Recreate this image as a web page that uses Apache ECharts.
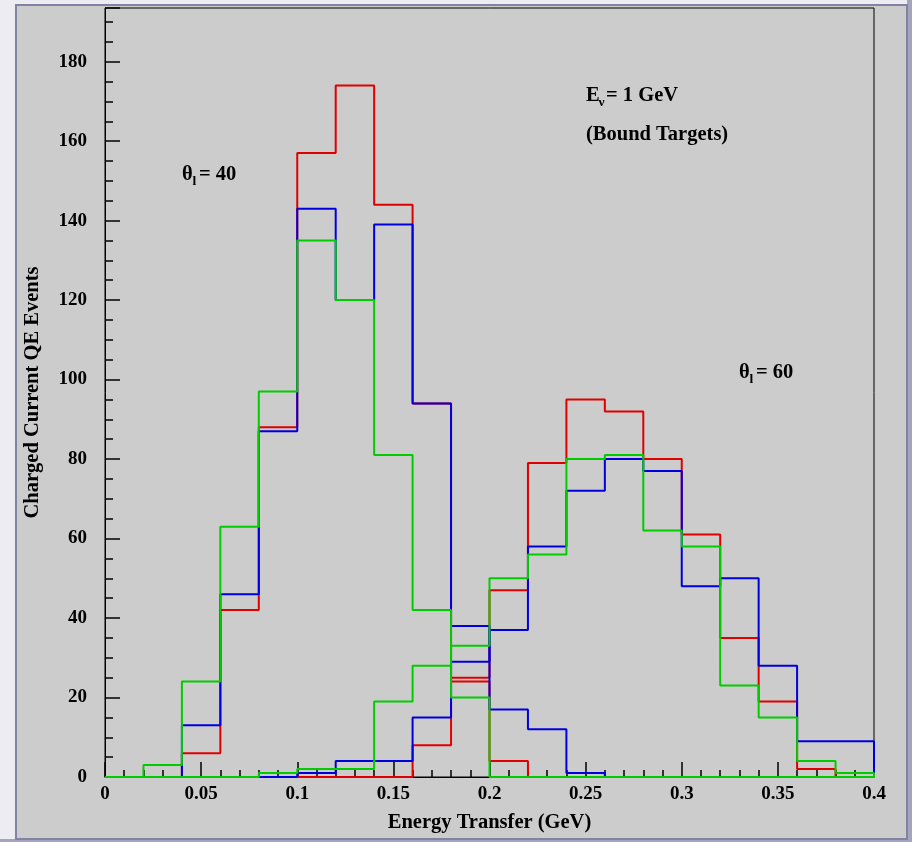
<!DOCTYPE html>
<html>
<head>
<meta charset="utf-8">
<script src="https://cdn.jsdelivr.net/npm/echarts@6/dist/echarts.min.js"></script>
<style>
html,body{margin:0;padding:0;background:#ececf2;}
#chart{width:912px;height:842px;}
</style>
</head>
<body>
<div id="chart"></div>
<script>
// Bin lower edges (GeV), bin width 0.02
const binEdges = [0,0.02,0.04,0.06,0.08,0.10,0.12,0.14,0.16,0.18,0.20,0.22,0.24,0.26,0.28,0.30,0.32,0.34,0.36,0.38,0.40];
// theta_l = 40
const red40   = [0,0,6,42,88,157,174,144,94,24,4,0,0,0,0,0,0,0,0,0];
const blue40  = [0,0,13,46,87,143,120,139,94,38,17,12,1,0,0,0,0,0,0,0];
const green40 = [0,3,24,63,97,135,120,81,42,20,0,0,0,0,0,0,0,0,0,0];
// theta_l = 60
const red60   = [0,0,0,0,0,0,0,0,8,25,47,79,95,92,80,61,35,19,2,0];
const blue60  = [0,0,0,0,0,1,4,4,15,29,37,58,72,80,77,48,50,28,9,9];
const green60 = [0,0,0,0,1,2,2,19,28,33,50,56,80,81,62,58,23,15,4,1];

const xTickLabels = ['0','0.05','0.1','0.15','0.2','0.25','0.3','0.35','0.4'];

function histPoints(vals){
  const pts = [[binEdges[0], 0]];
  for (let i = 0; i < vals.length; i++){
    pts.push([binEdges[i], vals[i]]);
    pts.push([binEdges[i+1], vals[i]]);
  }
  pts.push([binEdges[binEdges.length-1], 0]);
  return pts;
}

const RED = '#e00000', BLUE = '#0000dc', GREEN = '#00cc00';
const FONT = 'Liberation Serif';
const LW = 2;

function hist(name, vals, color){
  return {
    name: name, type: 'line', data: histPoints(vals), symbol: 'none',
    xAxisIndex: 0, yAxisIndex: 0,
    lineStyle: {color: color, width: LW}, itemStyle: {color: color},
    animation: false, silent: true
  };
}

const chart = echarts.init(document.getElementById('chart'), null, {renderer: 'canvas'});
const YMAX = 193.5;
const BIG = 'bold 20.5px "Liberation Serif"';
const SMALL = 'bold 13.5px "Liberation Serif"';

chart.setOption({
  backgroundColor: 'transparent',
  animation: false,
  grid: {left: 105, top: 8, width: 769, height: 769, show: true, borderColor: '#000', borderWidth: 1, backgroundColor: 'transparent'},
  xAxis: [
    {type: 'value', min: 0, max: 0.4, interval: 0.05, position: 'bottom',
     name: 'Energy Transfer (GeV)', nameLocation: 'middle', nameGap: 35,
     nameTextStyle: {fontFamily: FONT, fontWeight: 'bold', fontSize: 20.5, color: '#000'},
     axisLine: {show: true, lineStyle: {color: '#000', width: 1}},
     axisTick: {show: true, inside: true, length: 15, lineStyle: {color: '#000', width: 1.5}},
     axisLabel: {show: true, margin: 8, fontFamily: FONT, fontWeight: 'bold', fontSize: 19, color: '#000',
       formatter: function(v){ const i = Math.round(v / 0.05); return xTickLabels[i] !== undefined ? xTickLabels[i] : ''; }},
     splitLine: {show: false}},
    {type: 'value', min: 0, max: 0.4, interval: 0.01, position: 'bottom',
     axisLine: {show: false},
     axisTick: {show: true, inside: true, length: 7, lineStyle: {color: '#000', width: 1.5}},
     axisLabel: {show: false}, splitLine: {show: false}}
  ],
  yAxis: [
    {type: 'value', min: 0, max: YMAX, interval: 5, position: 'left',
     name: 'Charged Current QE Events', nameLocation: 'middle', nameGap: 62,
     nameTextStyle: {fontFamily: FONT, fontWeight: 'bold', fontSize: 20.5, color: '#000'},
     axisLine: {show: true, lineStyle: {color: '#000', width: 1}},
     axisTick: {show: true, inside: true, length: 8, lineStyle: {color: '#000', width: 1.5}},
     axisLabel: {show: true, margin: 18, fontFamily: FONT, fontWeight: 'bold', fontSize: 19, color: '#000',
       formatter: function(v){ return (Math.abs(v % 20) < 1e-6) ? String(v) : ''; }},
     splitLine: {show: false}},
    {type: 'value', min: 0, max: YMAX, interval: 20, position: 'left',
     axisLine: {show: false},
     axisTick: {show: true, inside: true, length: 15, lineStyle: {color: '#000', width: 1.5}},
     axisLabel: {show: false}, splitLine: {show: false}}
  ],
  graphic: [
    {type: 'rect', z: -10, silent: true, shape: {x: 16, y: 5, width: 891, height: 834},
     style: {fill: '#cccccc', stroke: '#8282a2', lineWidth: 2}},
    {type: 'rect', z: -11, silent: true, shape: {x: 907, y: 0, width: 5, height: 842}, style: {fill: '#a4a4bc'}},
    {type: 'rect', z: -11, silent: true, shape: {x: 0, y: 839, width: 912, height: 3}, style: {fill: '#a4a4bc'}},
    // theta_l = 40
    {type: 'text', x: 182, y: 175, style: {text: 'θ', font: BIG, verticalAlign: 'middle', fill: '#000'}},
    {type: 'text', x: 192.5, y: 182, style: {text: 'l', font: SMALL, verticalAlign: 'middle', fill: '#000'}},
    {type: 'text', x: 199, y: 175, style: {text: '= 40', font: BIG, verticalAlign: 'middle', fill: '#000'}},
    // theta_l = 60
    {type: 'text', x: 739, y: 373, style: {text: 'θ', font: BIG, verticalAlign: 'middle', fill: '#000'}},
    {type: 'text', x: 749.5, y: 380, style: {text: 'l', font: SMALL, verticalAlign: 'middle', fill: '#000'}},
    {type: 'text', x: 756, y: 373, style: {text: '= 60', font: BIG, verticalAlign: 'middle', fill: '#000'}},
    // E_nu = 1 GeV
    {type: 'text', x: 586, y: 96, style: {text: 'E', font: BIG, verticalAlign: 'middle', fill: '#000'}},
    {type: 'text', x: 598.5, y: 103, style: {text: 'ν', font: SMALL, verticalAlign: 'middle', fill: '#000'}},
    {type: 'text', x: 606, y: 96, style: {text: '= 1 GeV', font: BIG, verticalAlign: 'middle', fill: '#000'}},
    {type: 'text', x: 586, y: 135, style: {text: '(Bound Targets)', font: BIG, verticalAlign: 'middle', fill: '#000'}}
  ],
  series: [
    hist('red40', red40, RED),
    hist('red60', red60, RED),
    hist('blue40', blue40, BLUE),
    hist('blue60', blue60, BLUE),
    hist('green40', green40, GREEN),
    hist('green60', green60, GREEN)
  ]
});
</script>
</body>
</html>
